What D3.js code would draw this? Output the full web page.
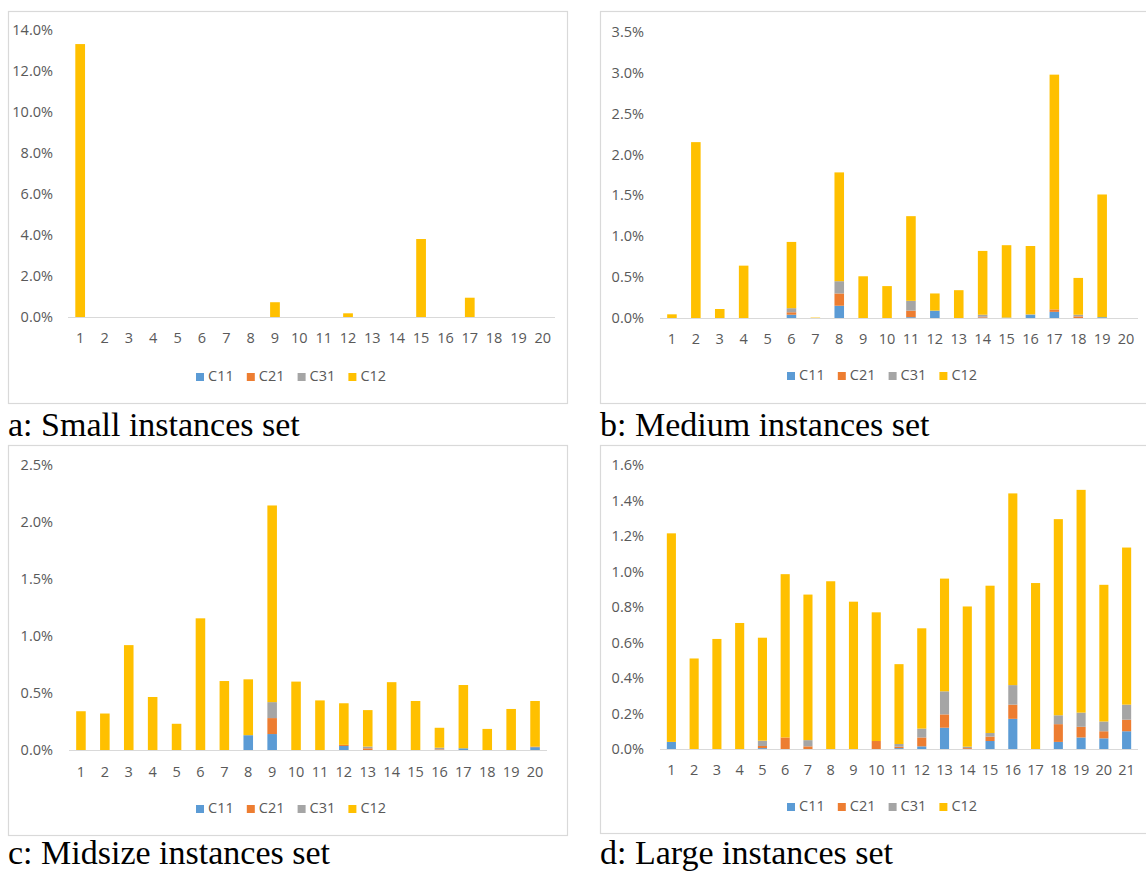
<!DOCTYPE html>
<html><head><meta charset="utf-8">
<script src="https://cdn.jsdelivr.net/npm/d3@7"></script>
<style>body{margin:0;background:#fff} svg{display:block}</style>
</head><body>
<svg id="c" width="1146" height="872"></svg>
<script>
const seriesNames = ["C11","C21","C31","C12"];
const colors = ["#5B9BD5","#ED7D31","#A5A5A5","#FFC000"];

// a: Small instances set
const catsA = ["1","2","3","4","5","6","7","8","9","10","11","12","13","14","15","16","17","18","19","20"];
const aC11 = [0,0,0,0,0,0,0,0,0,0,0,0,0,0,0,0,0,0,0,0];
const aC21 = [0,0,0,0,0,0,0,0,0,0,0,0,0,0,0,0,0,0,0,0];
const aC31 = [0,0,0,0,0,0,0,0,0,0,0,0,0,0,0,0,0,0,0,0];
const aC12 = [13.30,0,0,0,0,0,0,0,0.72,0,0,0.18,0,0,3.80,0,0.94,0,0,0];
const ticksA = [0,2,4,6,8,10,12,14];

// b: Medium instances set
const catsB = ["1","2","3","4","5","6","7","8","9","10","11","12","13","14","15","16","17","18","19","20"];
const bC11 = [0,0,0,0,0,0.04,0,0.15,0,0,0.01,0.09,0,0.005,0.005,0.04,0.075,0,0.01,0];
const bC21 = [0,0,0,0,0,0.03,0,0.15,0,0,0.08,0,0,0.01,0,0,0.03,0.02,0,0];
const bC31 = [0,0,0,0,0,0.05,0,0.15,0,0,0.12,0,0,0.025,0,0.005,0,0.02,0,0];
const bC12 = [0.045,2.15,0.11,0.64,0,0.81,0.005,1.33,0.51,0.39,1.035,0.21,0.34,0.78,0.885,0.835,2.87,0.45,1.50,0];
const ticksB = [0,0.5,1,1.5,2,2.5,3,3.5];

// c: Midsize instances set
const catsC = ["1","2","3","4","5","6","7","8","9","10","11","12","13","14","15","16","17","18","19","20"];
const cC11 = [0,0,0,0,0,0,0,0.13,0.14,0,0,0.035,0,0,0,0,0.015,0,0,0.025];
const cC21 = [0,0,0,0,0,0,0,0,0.14,0,0,0.01,0.015,0,0,0.005,0,0,0,0.005];
const cC31 = [0,0,0,0,0,0,0,0,0.14,0,0,0,0.015,0,0,0.015,0,0,0,0];
const cC12 = [0.34,0.32,0.92,0.465,0.23,1.155,0.605,0.49,1.725,0.60,0.435,0.365,0.32,0.595,0.43,0.175,0.555,0.185,0.36,0.40];
const ticksC = [0,0.5,1,1.5,2,2.5];

// d: Large instances set
const catsD = ["1","2","3","4","5","6","7","8","9","10","11","12","13","14","15","16","17","18","19","20","21"];
const dC11 = [0.04,0,0,0,0.005,0,0,0,0,0,0.005,0.015,0.12,0,0.045,0.17,0,0.04,0.065,0.06,0.10];
const dC21 = [0,0,0,0,0.012,0.065,0.015,0,0,0.045,0.008,0.05,0.075,0.005,0.025,0.08,0,0.10,0.06,0.04,0.065];
const dC31 = [0,0,0,0,0.03,0,0.035,0,0,0,0.015,0.05,0.13,0.008,0.02,0.11,0,0.05,0.08,0.055,0.085];
const dC12 = [1.175,0.51,0.62,0.71,0.58,0.92,0.82,0.945,0.83,0.725,0.45,0.565,0.635,0.79,0.83,1.08,0.935,1.105,1.255,0.77,0.885];
const ticksD = [0,0.2,0.4,0.6,0.8,1.0,1.2,1.4,1.6];

const captions = ["a: Small instances set","b: Medium instances set","c: Midsize instances set","d: Large instances set"];

const panels = [
  {cats:catsA, series:[aC11,aC21,aC31,aC12], ticks:ticksA, caption:captions[0],
   box:[8,11,559,392], x0:68, x1:555, y0:317, y1:29.7, yLab:53, xLabY:339, legY:377, legX:196, capX:8, capY:436},
  {cats:catsB, series:[bC11,bC21,bC31,bC12], ticks:ticksB, caption:captions[1],
   box:[600,11,560,392], x0:660, x1:1138, y0:318, y1:31.7, yLab:644, xLabY:340, legY:376, legX:787, capX:600, capY:436},
  {cats:catsC, series:[cC11,cC21,cC31,cC12], ticks:ticksC, caption:captions[2],
   box:[8,445,559,390], x0:69, x1:547, y0:750, y1:465, yLab:53, xLabY:773, legY:809, legX:196, capX:8, capY:864},
  {cats:catsD, series:[dC11,dC21,dC31,dC12], ticks:ticksD, caption:captions[3],
   box:[600,445,560,388], x0:660, x1:1138, y0:749, y1:465, yLab:644, xLabY:771, legY:807, legX:787, capX:600, capY:864}
];

const svg = d3.select("#c");
const fmt = d => d3.format(".1f")(d) + "%";
const FONT = "'Open Sans', 'Liberation Sans', sans-serif";
const FS = 14.5;

panels.forEach(p => {
  const g = svg.append("g");
  g.append("rect").attr("x", p.box[0]+0.5).attr("y", p.box[1]+0.5)
    .attr("width", p.box[2]).attr("height", p.box[3])
    .attr("fill", "#fff").attr("stroke", "#d9d9d9").attr("stroke-width", 1.2);

  const x = d3.scaleBand().domain(p.cats).range([p.x0, p.x1]).paddingInner(0.6).paddingOuter(0.3);
  const ymax = p.ticks[p.ticks.length-1];
  const y = d3.scaleLinear().domain([0, ymax]).range([p.y0, p.y1]);

  const rows = p.cats.map((c, i) => {
    const r = {cat: c};
    seriesNames.forEach((s, k) => r[s] = p.series[k][i]);
    return r;
  });
  const stacked = d3.stack().keys(seriesNames)(rows);

  // y axis labels
  const yAxis = d3.axisLeft(y).tickValues(p.ticks).tickFormat(fmt).tickSize(0).tickPadding(0);
  const ya = g.append("g").attr("transform", `translate(${p.yLab},0)`).call(yAxis);
  ya.select(".domain").remove();
  ya.selectAll("text").attr("fill", "#595959").attr("font-size", FS).attr("font-family", FONT);

  // bars
  stacked.forEach((layer, k) => {
    g.append("g").attr("fill", colors[k]).selectAll("rect").data(layer).join("rect")
      .attr("x", d => x(d.data.cat))
      .attr("width", x.bandwidth())
      .attr("y", d => y(d[1]))
      .attr("height", d => Math.max(0, y(d[0]) - y(d[1])));
  });

  // x axis
  const xAxis = d3.axisBottom(x).tickSize(0).tickPadding(0);
  const xa = g.append("g").attr("transform", `translate(0,${p.y0})`).call(xAxis);
  xa.select(".domain").attr("stroke", "#d9d9d9").attr("d", `M${p.x0},0.5H${p.x1}`);
  xa.selectAll("text").attr("fill", "#595959").attr("font-size", FS).attr("font-family", FONT)
    .attr("dy", null).attr("y", p.xLabY - p.y0).attr("dominant-baseline", "middle");

  // legend
  const leg = g.append("g").attr("transform", `translate(${p.legX},${p.legY})`);
  seriesNames.forEach((s, k) => {
    const it = leg.append("g").attr("transform", `translate(${k*50.8},0)`);
    it.append("rect").attr("x", 0).attr("y", -4).attr("width", 8).attr("height", 8).attr("fill", colors[k]);
    it.append("text").attr("x", 12).attr("y", 0).attr("dominant-baseline", "middle")
      .attr("fill", "#595959").attr("font-size", FS).attr("font-family", FONT).text(s);
  });

  // caption
  svg.append("text").attr("x", p.capX).attr("y", p.capY)
    .attr("font-family", "'Liberation Serif', 'Times New Roman', serif").attr("font-size", 34)
    .attr("fill", "#000").text(p.caption);
});
</script>
</body></html>
